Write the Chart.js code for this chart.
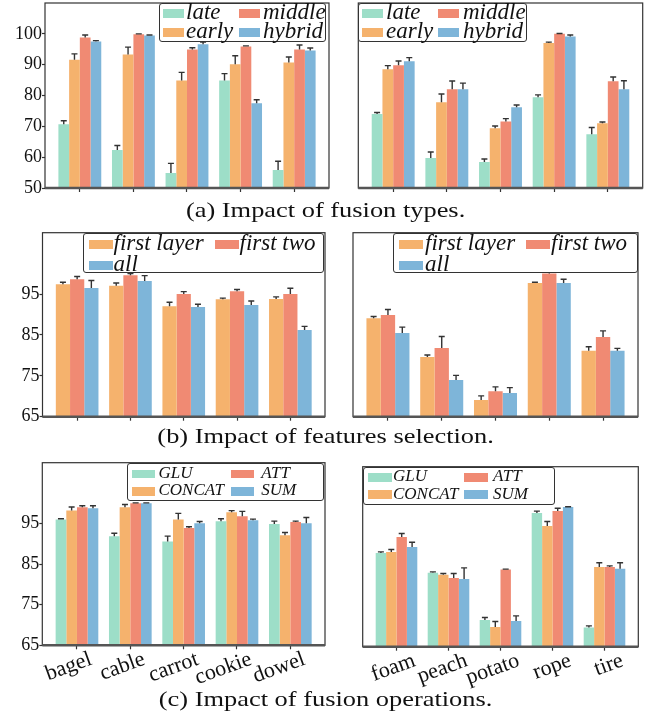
<!DOCTYPE html>
<html>
<head>
<meta charset="utf-8">
<script src="https://cdn.jsdelivr.net/npm/chart.js@4.4.0/dist/chart.umd.min.js"></script>
<style>
  body { margin: 0; background: #fff; }
  #fig { position: relative; width: 651px; height: 712px; overflow: hidden; font-family: "Liberation Serif", serif; }
  canvas { position: absolute; }
  .legend { position: absolute; border: 1px solid #333; border-radius: 3px; background: #fff; box-sizing: border-box; }
  .legend .patch { position: absolute; }
  .legend .txt { position: absolute; font-style: italic; white-space: nowrap; line-height: 1; color: #111; }
  .caption { position: absolute; left: 0; width: 651px; text-align: center; font-size: 22px; line-height: 22px; color: #111; transform: scaleX(1.2); transform-origin: 325px 0; }
</style>
</head>
<body>
<div id="fig"></div>
<script>
//categories
const catsLeft = ['bagel', 'cable', 'carrot', 'cookie', 'dowel'];
const catsRight = ['foam', 'peach', 'potato', 'rope', 'tire'];

//series names
const typeNames = ['late', 'early', 'middle', 'hybrid'];
const featNames = ['first layer', 'first two', 'all'];
const opNames = ['GLU', 'CONCAT', 'ATT', 'SUM'];

//(a) fusion types - values and upper error, one row per series
const typeLeftVals = [
  [70.7, 62.3, 54.9, 84.9, 55.8],
  [91.6, 93.3, 84.9, 90.1, 90.7],
  [98.8, 99.9, 94.9, 95.9, 94.9],
  [97.5, 99.5, 96.6, 77.5, 94.6]
];
const typeLeftErrs = [
  [1.1, 1.5, 3.1, 2.2, 2.9],
  [1.9, 2.4, 2.6, 2.8, 1.8],
  [0.8, 0.1, 0.6, 0.2, 1.5],
  [0.3, 0.1, 0.7, 1.1, 0.8]
];
const typeRightVals = [
  [74.0, 59.7, 58.4, 79.4, 67.4],
  [88.5, 77.8, 69.4, 97.0, 71.0],
  [89.8, 82.0, 71.6, 100.0, 84.6],
  [91.1, 82.0, 76.2, 99.1, 82.0]
];
const typeRightErrs = [
  [0.5, 2.0, 1.0, 0.8, 2.2],
  [1.2, 2.7, 0.7, 0.3, 0.4],
  [1.4, 2.7, 0.9, 0.1, 1.4],
  [1.2, 2.0, 0.7, 0.5, 2.8]
];

//(b) features selection
const featLeftVals = [
  [97.4, 97.0, 92.0, 93.7, 93.8],
  [98.6, 99.6, 95.0, 95.7, 95.0],
  [96.5, 98.2, 91.8, 92.3, 86.2]
];
const featLeftErrs = [
  [0.5, 0.7, 1.0, 0.3, 0.5],
  [0.7, 0.4, 0.6, 0.4, 1.4],
  [1.8, 1.3, 0.7, 1.0, 0.9]
];
const featRightVals = [
  [89.1, 79.6, 69.1, 97.7, 81.1],
  [89.9, 81.8, 71.2, 100.0, 84.5],
  [85.5, 74.0, 70.8, 97.7, 81.1]
];
const featRightErrs = [
  [0.4, 0.5, 1.0, 0.2, 1.0],
  [1.3, 2.8, 1.1, 0.3, 1.5],
  [1.4, 1.1, 1.3, 0.9, 0.6]
];

//(c) fusion operations
const opLeftVals = [
  [96.0, 91.9, 90.6, 95.6, 94.9],
  [98.2, 99.0, 96.0, 97.8, 92.1],
  [99.0, 100.0, 93.9, 96.8, 95.4],
  [98.8, 100.0, 95.1, 95.8, 95.1]
];
const opLeftErrs = [
  [0.2, 0.7, 1.3, 0.6, 0.7],
  [0.9, 0.7, 1.5, 0.4, 0.7],
  [0.4, 0.1, 0.3, 1.2, 0.2],
  [0.6, 0.1, 0.4, 0.3, 1.4]
];
const opRightVals = [
  [88.4, 83.5, 71.7, 98.4, 69.8],
  [88.7, 83.0, 69.9, 95.2, 84.9],
  [92.4, 82.2, 84.3, 98.9, 84.9],
  [89.9, 81.9, 71.4, 99.9, 84.5]
];
const opRightErrs = [
  [0.3, 0.2, 0.6, 0.5, 0.4],
  [0.6, 0.3, 1.4, 1.1, 1.1],
  [0.9, 1.1, 0.1, 0.7, 0.3],
  [1.2, 2.8, 1.3, 0.1, 1.5]
];

//y tick labels
const yTicksA = [50, 60, 70, 80, 90, 100];
const yTicksBC = [65, 75, 85, 95];

const teal = '#9ddec8', orange = '#f5b26d', salmon = '#f08a73', blue = '#7eb5d9';
const colors4 = [teal, orange, salmon, blue];
const colors3 = [orange, salmon, blue];

const fig = document.getElementById('fig');

//draw only the upper half of each error bar, with a cap
const errorBars = {
  id: 'errorBars',
  afterDatasetsDraw(chart) {
    const ctx = chart.ctx;
    const y = chart.scales.y;
    ctx.save();
    ctx.strokeStyle = '#333';
    ctx.lineWidth = 1.4;
    chart.data.datasets.forEach((ds, di) => {
      chart.getDatasetMeta(di).data.forEach((bar, i) => {
        const top = y.getPixelForValue(ds.data[i].y + ds.errs[i]);
        ctx.beginPath();
        ctx.moveTo(bar.x, bar.y);
        ctx.lineTo(bar.x, top);
        ctx.moveTo(bar.x - 3, top);
        ctx.lineTo(bar.x + 3, top);
        ctx.stroke();
      });
    });
    ctx.restore();
  }
};

//box around the plot area
const frame = {
  id: 'frame',
  afterDatasetsDraw(chart) {
    const {left, top, right, bottom} = chart.chartArea;
    const ctx = chart.ctx;
    ctx.save();
    ctx.strokeStyle = '#333';
    ctx.lineWidth = 1.2;
    ctx.strokeRect(left, top, right - left, bottom - top);
    ctx.strokeStyle = '#555';
    ctx.lineWidth = 2.4;
    ctx.beginPath();
    ctx.moveTo(left, bottom);
    ctx.lineTo(right, bottom);
    ctx.stroke();
    ctx.restore();
  }
};

function makePanel(opt) {
  const cv = document.createElement('canvas');
  cv.width = opt.w;
  cv.height = opt.h;
  cv.style.left = opt.x + 'px';
  cv.style.top = opt.y + 'px';
  fig.appendChild(cv);

  new Chart(cv, {
    type: 'bar',
    data: {
      datasets: opt.names.map((n, s) => ({
        label: n,
        data: opt.vals[s].map((v, i) => ({x: i, y: v})),
        errs: opt.errs[s],
        backgroundColor: opt.colors[s],
        borderWidth: 0,
        categoryPercentage: 0.8,
        barPercentage: 1
      }))
    },
    options: {
      responsive: false,
      animation: false,
      layout: { padding: { top: opt.padTop, right: opt.padRight, left: 0, bottom: 0 } },
      plugins: { legend: { display: false }, tooltip: { enabled: false } },
      scales: {
        x: {
          type: 'linear',
          min: -0.65,
          max: 4.65,
          offset: false,
          afterBuildTicks: a => { a.ticks = opt.cats.map((c, i) => ({value: i})); },
          afterFit: a => { a.height = opt.xh; a.paddingLeft = 0; a.paddingRight = 0; },
          grid: { offset: false, drawOnChartArea: false, drawTicks: true, tickLength: 4, tickColor: '#333', tickWidth: 1.2 },
          border: { display: false },
          ticks: {
            display: opt.showX,
            autoSkip: false,
            minRotation: 20,
            maxRotation: 20,
            labelOffset: opt.labelOffset || 0,
            padding: -3,
            color: '#111',
            font: { family: 'Liberation Serif', size: 22 },
            callback: v => opt.cats[v]
          }
        },
        y: {
          min: opt.ymin,
          max: 110,
          afterBuildTicks: a => { a.ticks = opt.yticks.map(v => ({value: v})); },
          afterFit: a => { a.width = opt.yw; a.paddingTop = 0; a.paddingBottom = 0; },
          grid: { display: opt.showY, drawOnChartArea: false, tickLength: 3, tickColor: '#333', tickWidth: 1.2 },
          border: { display: false },
          ticks: {
            display: opt.showY,
            padding: 0,
            color: '#111',
            font: { family: 'Liberation Serif', size: 18 }
          }
        }
      }
    },
    plugins: [errorBars, frame]
  });
}

function makeLegend(L) {
  const box = document.createElement('div');
  box.className = 'legend';
  box.style.left = L.x + 'px';
  box.style.top = L.y + 'px';
  box.style.width = L.w + 'px';
  box.style.height = L.h + 'px';
  L.names.forEach((n, k) => {
    const col = L.cols[k], row = L.rows[k];
    const p = document.createElement('div');
    p.className = 'patch';
    p.style.left = L.patchX[col] + 'px';
    p.style.top = (L.rowY[row] - L.ph / 2) + 'px';
    p.style.width = L.pw + 'px';
    p.style.height = L.ph + 'px';
    p.style.background = L.colors[k];
    box.appendChild(p);
    const t = document.createElement('div');
    t.className = 'txt';
    t.style.left = L.textX[col] + 'px';
    t.style.top = (L.rowY[row] - L.fs * 0.58) + 'px';
    t.style.fontSize = L.fs + 'px';
    t.textContent = n;
    box.appendChild(t);
  });
  fig.appendChild(box);
}

function caption(text, top) {
  const c = document.createElement('div');
  c.className = 'caption';
  c.style.top = top + 'px';
  c.textContent = text;
  fig.appendChild(c);
}

// (a)
makePanel({ x: 0, y: 0, w: 332, h: 200, yw: 45, xh: 12, padTop: 3, padRight: 3,
  cats: catsLeft, names: typeNames, vals: typeLeftVals, errs: typeLeftErrs, colors: colors4,
  ymin: 50, yticks: yTicksA, showY: true, showX: false });
makePanel({ x: 340, y: 0, w: 311, h: 200, yw: 18.3, xh: 12, padTop: 3, padRight: 8.3,
  cats: catsRight, names: typeNames, vals: typeRightVals, errs: typeRightErrs, colors: colors4,
  ymin: 50, yticks: yTicksA, showY: false, showX: false });

// (b)
makePanel({ x: 0, y: 225, w: 330, h: 205, yw: 42.5, xh: 13.3, padTop: 7.7, padRight: 5,
  cats: catsLeft, names: featNames, vals: featLeftVals, errs: featLeftErrs, colors: colors3,
  ymin: 65, yticks: yTicksBC, showY: true, showX: false });
makePanel({ x: 335, y: 225, w: 316, h: 205, yw: 18, xh: 13.3, padTop: 7.7, padRight: 13,
  cats: catsRight, names: featNames, vals: featRightVals, errs: featRightErrs, colors: colors3,
  ymin: 65, yticks: yTicksBC, showY: false, showX: false });

// (c)
makePanel({ x: 0, y: 455, w: 335, h: 245, yw: 42.3, xh: 54.7, padTop: 7.7, padRight: 10,
  cats: catsLeft, names: opNames, vals: opLeftVals, errs: opLeftErrs, colors: colors4,
  ymin: 65, yticks: yTicksBC, showY: true, showX: true, labelOffset: 14 });
makePanel({ x: 340, y: 455, w: 311, h: 245, yw: 22.7, xh: 53.3, padTop: 11.7, padRight: 12.7,
  cats: catsRight, names: opNames, vals: opRightVals, errs: opRightErrs, colors: colors4,
  ymin: 65, yticks: yTicksBC, showY: false, showX: true, labelOffset: 18 });

// legends
makeLegend({ x: 159, y: 3, w: 167, h: 39, names: typeNames, colors: colors4,
  cols: [0, 0, 1, 1], rows: [0, 1, 0, 1], patchX: [3, 79], textX: [26, 103], rowY: [9.5, 28.7], pw: 21, ph: 9, fs: 23 });
makeLegend({ x: 358, y: 3, w: 169, h: 39, names: typeNames, colors: colors4,
  cols: [0, 0, 1, 1], rows: [0, 1, 0, 1], patchX: [3, 79], textX: [27, 104], rowY: [9.5, 28.7], pw: 21, ph: 9, fs: 23 });
makeLegend({ x: 83, y: 233, w: 241, h: 40, names: featNames, colors: colors3,
  cols: [0, 1, 0], rows: [0, 0, 1], patchX: [4.5, 130.5], textX: [29.5, 155.5], rowY: [10.6, 31.6], pw: 24, ph: 8.5, fs: 23 });
makeLegend({ x: 393, y: 233, w: 245, h: 40, names: featNames, colors: colors3,
  cols: [0, 1, 0], rows: [0, 0, 1], patchX: [5, 132], textX: [31, 157], rowY: [10.6, 31.6], pw: 24, ph: 8.5, fs: 23 });
makeLegend({ x: 127, y: 463, w: 197, h: 38, names: opNames, colors: colors4,
  cols: [0, 0, 1, 1], rows: [0, 1, 0, 1], patchX: [4.3, 102.6], textX: [30.5, 133.3], rowY: [10, 27.3], pw: 23, ph: 8.5, fs: 17 });
makeLegend({ x: 363, y: 467, w: 192, h: 37.6, names: opNames, colors: colors4,
  cols: [0, 0, 1, 1], rows: [0, 1, 0, 1], patchX: [4, 99.6], textX: [29, 129], rowY: [9.3, 26.6], pw: 24, ph: 8.5, fs: 17 });

caption('(a) Impact of fusion types.', 199);
caption('(b) Impact of features selection.', 425);
caption('(c) Impact of fusion operations.', 688);
</script>
</body>
</html>
